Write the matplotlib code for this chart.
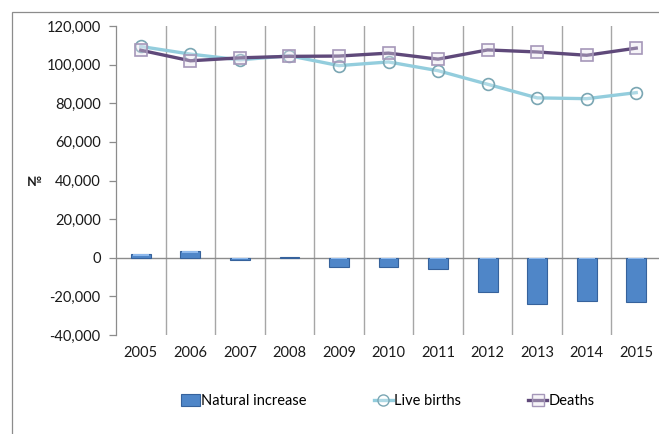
import matplotlib
matplotlib.use("Agg")
import matplotlib.pyplot as plt
from matplotlib.lines import Line2D
from matplotlib.patches import Rectangle, Patch
import numpy as np

years = ["2005", "2006", "2007", "2008", "2009", "2010",
         "2011", "2012", "2013", "2014", "2015"]
live_births = [109399, 105449, 102492, 104594, 99491, 101381,
               96856, 89841, 82787, 82367, 85500]
deaths = [107464, 101990, 103512, 104280, 104434, 105954,
          102848, 107612, 106554, 104843, 108539]
natural_increase = [1935, 3459, -1020, 314, -4943, -4573,
                    -5992, -17771, -23767, -22476, -23039]
y_ticks = [-40000, -20000, 0, 20000, 40000, 60000, 80000, 100000, 120000]

plt.rcParams["font.family"] = ["Lato", "DejaVu Sans"]

W, H = 659, 434
fig = plt.figure(figsize=(W / 100, H / 100), dpi=100)

# outer chart frame
fig.add_artist(Rectangle((12 / W, -0.1), 1.2, 1 - 12 / H + 0.1,
                         transform=fig.transFigure, fill=False,
                         edgecolor="#8c8c8c", linewidth=0.9))

ax = fig.add_axes([116 / W, 1 - 335 / H, 545 / W, (335 - 26) / H])
x = np.arange(len(years))

# vertical gridlines between categories
for b in np.arange(0.5, len(years), 1.0):
    ax.axvline(b, color="#a6a6a6", linewidth=1.0, zorder=0)

# natural increase bars
bar_w = 0.4
ax.bar(x, natural_increase, width=bar_w, color="#4f86c8",
       edgecolor="#36629c", linewidth=0.8, zorder=2)
# bevel highlight along the upper edge of each bar
hl = [min(abs(v) * 0.3, 700) for v in natural_increase]
hl_bottom = [max(v, 0) - h - 200 if v > 0 else -h - 200
             for v, h in zip(natural_increase, hl)]
ax.bar(x, hl, bottom=hl_bottom, width=bar_w * 0.8, color="#8db8ec",
       linewidth=0, zorder=3)

# zero axis line
ax.axhline(0, color="#8c8c8c", linewidth=1.0, zorder=1)

# lines
ax.plot(x, live_births, color="#93cddd", linewidth=2.4, zorder=4,
        marker="o", markersize=8.5, markerfacecolor=(1, 1, 1, 0.25),
        markeredgecolor="#7aa6b3", markeredgewidth=1.2)
ax.plot(x, deaths, color="#5f497a", linewidth=2.4, zorder=5,
        marker="s", markersize=9, markerfacecolor=(0.9, 0.88, 0.93, 0.35),
        markeredgecolor="#a597b9", markeredgewidth=1.2)

ax.set_xlim(-0.5, len(years) - 0.5)
ax.set_ylim(-40000, 120000)
ax.set_yticks(y_ticks)
ax.set_yticklabels([f"{v:,}" for v in y_ticks], fontsize=10.5, color="#1a1a1a")
ax.set_xticks(x)
ax.set_xticklabels(years, fontsize=10.5, color="#1a1a1a")
ax.tick_params(axis="x", length=0, pad=8)
ax.tick_params(axis="y", direction="out", length=5, width=0.9,
               color="#8c8c8c", pad=6)

for s in ["top", "right", "bottom"]:
    ax.spines[s].set_visible(False)
ax.spines["left"].set_color("#8c8c8c")
ax.spines["left"].set_linewidth(0.9)

fig.text(27 / W, 1 - 182 / H, "№", fontsize=9, fontweight="bold",
         ha="left", va="center", color="#1a1a1a")

handles = [
    Patch(facecolor="#4f86c8", edgecolor="#36629c", linewidth=0.8),
    Line2D([0], [0], color="#93cddd", linewidth=2.4, marker="o",
           markersize=8, markerfacecolor=(1, 1, 1, 0.25),
           markeredgecolor="#7aa6b3"),
    Line2D([0], [0], color="#5f497a", linewidth=2.4, marker="s",
           markersize=8, markerfacecolor=(0.9, 0.88, 0.93, 0.35),
           markeredgecolor="#a597b9"),
]
fig.legend(handles, ["Natural increase", "Live births", "Deaths"],
           loc="center", bbox_to_anchor=(388 / W, 1 - 401 / H), ncol=3,
           frameon=False, fontsize=10.5, handlelength=1.3,
           handletextpad=0.1, columnspacing=4.6, handleheight=0.8)

fig.savefig("out.png", dpi=100)
